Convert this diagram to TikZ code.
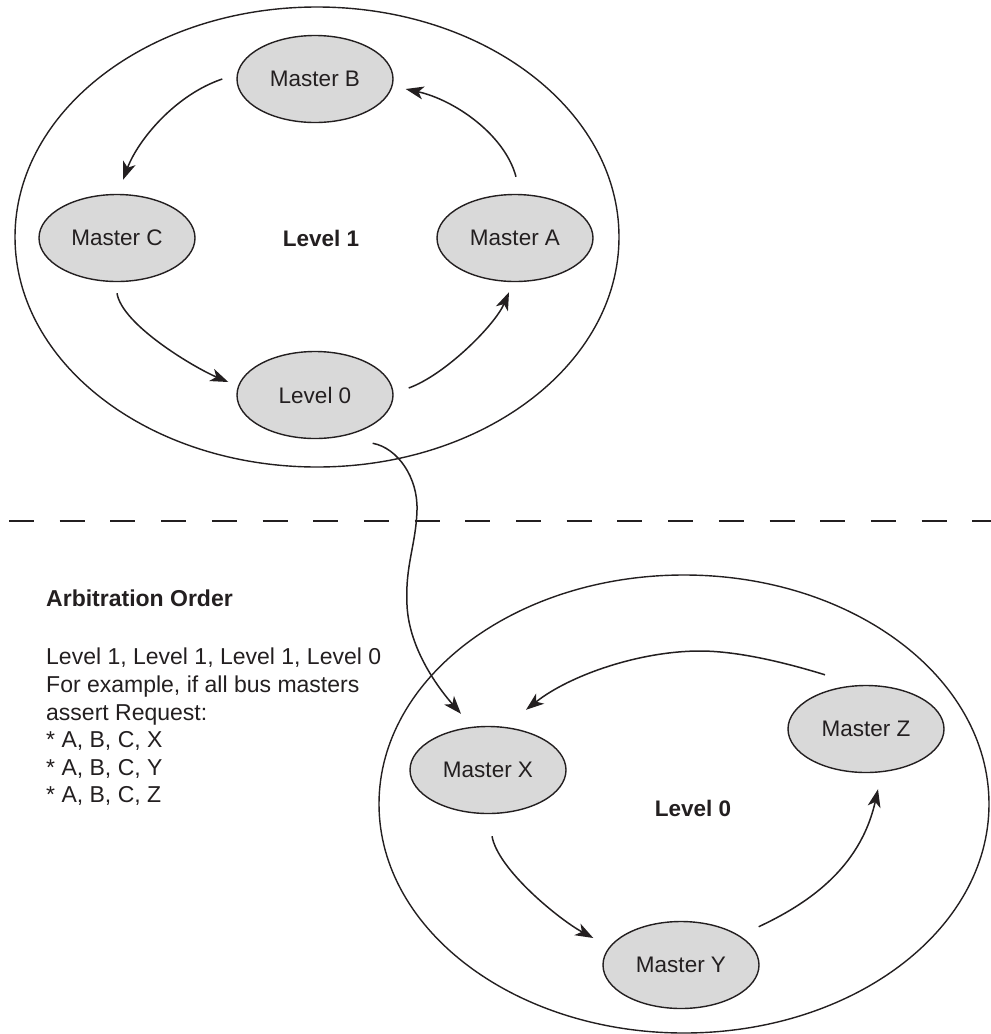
\documentclass[tikz,border=0pt]{standalone}
\usepackage{fontspec}
\setmainfont{Liberation Sans}
\usetikzlibrary{arrows.meta,shapes.geometric,calc}
\definecolor{nodefill}{HTML}{D9D9D9}
\definecolor{ink}{HTML}{231F20}
\begin{document}
\begin{tikzpicture}[x=1pt,y=-1pt,
  master/.style={ellipse,draw=ink,fill=nodefill,line width=1.4pt,minimum width=156pt,minimum height=87pt,inner sep=0pt,font=\fontsize{22.5}{27}\selectfont,text=ink},
  region/.style={ellipse,draw=ink,line width=1.4pt,inner sep=0pt},
  lvl/.style={font=\bfseries\fontsize{22.5}{27}\selectfont,text=ink},
  flow/.style={draw=ink,line width=1.5pt,-{Stealth[length=18pt,width=13pt,inset=5pt]}},
  divider/.style={draw=ink,line width=2pt,dash pattern=on 25pt off 25.7pt}]
\useasboundingbox (0,0) rectangle (991,1034);

% regions
\node[region,minimum width=604pt,minimum height=460pt] (R1) at (317,237) {};
\node[region,minimum width=610pt,minimum height=458pt] (R0) at (684,804) {};

% level 1 nodes
\node[master] (B) at (315,79) {Master B};
\node[master] (C) at (117,238) {Master C};
\node[master] (A) at (515,238) {Master A};
\node[master] (L0) at (315,395) {Level 0};
\node[lvl] (lv1) at (321,238) {Level 1};

% level 0 nodes
\node[master] (X) at (488,770) {Master X};
\node[master] (Z) at (866,729) {Master Z};
\node[master] (Y) at (681,965) {Master Y};
\node[lvl] (lv0) at (693,808) {Level 0};

% divider
\coordinate (dl) at (9,521);
\coordinate (dr) at (991,521);
\draw[divider] (dl) -- (dr);

% text block
\node[anchor=west,inner sep=0pt,font=\bfseries\fontsize{23}{27.6}\selectfont,text=ink] (title) at (46,598) {Arbitration Order};
\node[anchor=north west,inner sep=0pt,align=left,font=\fontsize{23}{27.6}\selectfont,text=ink] (order) at (46,648)
 {Level 1, Level 1, Level 1, Level 0\\For example, if all bus masters\\assert Request:\\* A, B, C, X\\* A, B, C, Y\\* A, B, C, Z};

% connector end points
\coordinate (bcS) at ($(B.west)+(-14,0)$);
\coordinate (bcT) at ($(C.north)+(6,-14)$);
\coordinate (abS) at ($(A.north)+(1,-17)$);
\coordinate (abT) at ($(B.east)+(12,10)$);
\coordinate (clS) at ($(C.south)+(0,11)$);
\coordinate (clT) at ($(L0.west)+(-8,-13)$);
\coordinate (laS) at ($(L0.east)+(15,-7)$);
\coordinate (laT) at ($(A.south)+(-6,10)$);
\coordinate (lxS) at ($(L0.south east)+(2,17)$);
\coordinate (lxT) at ($(X.north)+(-27,-12)$);
\coordinate (zxS) at ($(Z.north)+(-41,-10)$);
\coordinate (zxT) at ($(X.north)+(38,-16)$);
\coordinate (xyS) at ($(X.south)+(4,22)$);
\coordinate (xyT) at ($(Y.west)+(-9,-27)$);
\coordinate (yzS) at ($(Y.north east)+(22,-7)$);
\coordinate (yzT) at ($(Z.south)+(12,16)$);

% level 1 cycle
\draw[flow] (bcS) .. controls (175,95) and (138,140) .. (bcT);
\draw[flow] (abS) .. controls (505,135) and (455,100) .. (abT);
\draw[flow] (clS) .. controls (122,325) and (195,368) .. (clT);
\draw[flow] (laS) .. controls (445,375) and (495,325) .. (laT);

% link between levels
\draw[flow] (lxS) .. controls (398,448) and (418,478) .. (417,510)
  .. controls (416,545) and (405,565) .. (407,605)
  .. controls (409,650) and (440,690) .. (lxT);

% level 0 cycle
\draw[flow] (zxS) .. controls (790,664) and (740,651) .. (700,651)
  .. controls (640,651) and (570,675) .. (zxT);
\draw[flow] (xyS) .. controls (498,870) and (560,920) .. (xyT);
\draw[flow] (yzS) .. controls (805,905) and (860,870) .. (yzT);
\end{tikzpicture}
\end{document}
